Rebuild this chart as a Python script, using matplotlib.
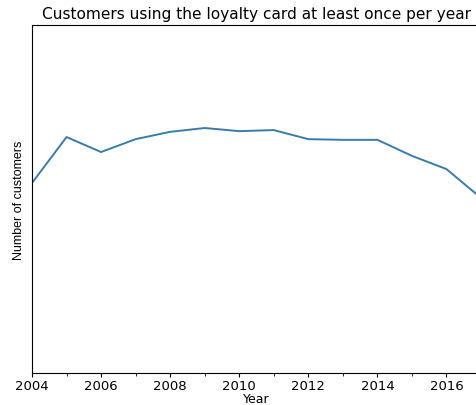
import matplotlib
matplotlib.use("Agg")
import matplotlib.pyplot as plt
from matplotlib.ticker import MultipleLocator

# customers using the card at least once per year
years = [2004, 2005, 2006, 2007, 2008, 2009, 2010, 2011, 2012, 2013, 2014, 2015, 2016, 2017]
customers = [546, 678, 635, 672, 693, 704, 695, 698, 672, 670, 670, 624, 586, 503]

fig = plt.figure(figsize=(4.76, 4.06), dpi=100)
# the axes run a little past the right edge, like the cropped original
ax = fig.add_axes([32 / 476, 32 / 406, 449 / 476, 348 / 406])

ax.plot(years, customers, color="#3b7ba8", linewidth=1.4)
ax.set_xlim(2004, 2017)
ax.set_ylim(0, 1000)

ax.xaxis.set_major_locator(MultipleLocator(2))
ax.xaxis.set_minor_locator(MultipleLocator(1))
ax.tick_params(axis="x", which="major", length=3, labelsize=9.5, pad=1.5)
ax.tick_params(axis="x", which="minor", length=2)
ax.set_yticks([])

ax.set_title("Customers using the loyalty card at least once per year",
             fontsize=11.1, pad=5)
ax.set_xlabel("Year", fontsize=9, labelpad=0)
ax.set_ylabel("Number of customers", fontsize=9,
              family="Liberation Sans", labelpad=5)

fig.savefig("out.png", dpi=100)
